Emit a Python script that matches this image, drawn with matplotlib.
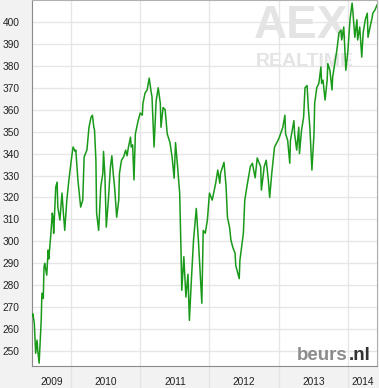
import matplotlib.pyplot as plt

plt.rcParams["font.family"] = ["Liberation Sans", "DejaVu Sans"]

# AEX index (decimal year, index level)
t = [2009.44, 2009.45, 2009.47, 2009.49, 2009.51, 2009.52, 2009.54, 2009.57, 2009.58, 2009.60,
     2009.61, 2009.62, 2009.65, 2009.67, 2009.68, 2009.71, 2009.73, 2009.74, 2009.75, 2009.78,
     2009.80, 2009.81, 2009.84, 2009.87, 2009.89, 2009.91, 2009.94, 2009.97,
     2010.01, 2010.03, 2010.06, 2010.07, 2010.10, 2010.13, 2010.14, 2010.17, 2010.19, 2010.23,
     2010.24, 2010.26, 2010.29, 2010.31, 2010.33, 2010.34, 2010.36, 2010.37, 2010.40, 2010.43,
     2010.46, 2010.47, 2010.49, 2010.51, 2010.54, 2010.57, 2010.59, 2010.61, 2010.63, 2010.66,
     2010.69, 2010.70, 2010.73, 2010.76, 2010.79, 2010.81, 2010.83, 2010.86, 2010.87, 2010.89,
     2010.91, 2010.93, 2010.97,
     2011.00, 2011.03, 2011.04, 2011.07, 2011.10, 2011.13, 2011.16, 2011.17, 2011.20, 2011.23,
     2011.26, 2011.29, 2011.30, 2011.33, 2011.36, 2011.39, 2011.43, 2011.46, 2011.49, 2011.51,
     2011.54, 2011.57, 2011.59, 2011.60, 2011.63, 2011.66, 2011.69, 2011.71, 2011.74, 2011.77,
     2011.81, 2011.84, 2011.89, 2011.91, 2011.94, 2011.97,
     2012.00, 2012.04, 2012.09, 2012.12, 2012.15, 2012.16, 2012.21, 2012.24, 2012.26, 2012.29,
     2012.31, 2012.34, 2012.37, 2012.38, 2012.43, 2012.44, 2012.49, 2012.51, 2012.54, 2012.59,
     2012.62, 2012.66, 2012.69, 2012.74, 2012.75, 2012.78, 2012.79, 2012.82, 2012.85, 2012.87,
     2012.90, 2012.94, 2012.99,
     2013.01, 2013.06, 2013.09, 2013.10, 2013.13, 2013.16, 2013.17, 2013.22, 2013.23, 2013.26,
     2013.29, 2013.30, 2013.33, 2013.36, 2013.38, 2013.41, 2013.43, 2013.45, 2013.48, 2013.51,
     2013.52, 2013.55, 2013.58, 2013.61, 2013.62, 2013.64, 2013.67, 2013.70, 2013.71, 2013.74,
     2013.77, 2013.78, 2013.81, 2013.84, 2013.87, 2013.90, 2013.91, 2013.94, 2013.97,
     2014.00, 2014.03, 2014.06, 2014.07, 2014.10, 2014.13, 2014.14, 2014.17, 2014.20, 2014.22,
     2014.25, 2014.28, 2014.29, 2014.32, 2014.35, 2014.36, 2014.39, 2014.42]

aex = [266, 267, 262.7, 249, 255, 250.4, 244.5, 264, 276.4, 274,
       288, 290, 284.6, 296, 292, 303.7, 312.9, 311, 303.7, 324.7,
       327, 315.6, 309.7, 322, 313, 305, 318.8, 328,
       338.5, 343, 341, 341.6, 328, 319, 315.6, 318.8, 338.5, 341.6,
       345, 352, 356.6, 357.5, 352, 350.7, 337, 312.9, 305, 324.7,
       331, 341, 330, 306.5, 318.8, 334, 339, 331, 324.7, 311,
       318.8, 331, 337, 338.5, 341.6, 339, 343, 347.5, 343, 344,
       328, 349, 355,
       358.5, 357.5, 363, 367.6, 369, 374.4, 367.6, 366, 343, 364,
       370, 363, 352, 361, 360, 349, 345, 338.5, 328.8, 345,
       334, 322, 294.6, 277.7, 293, 274.6, 285, 264, 283, 300.6,
       315, 300.6, 271.8, 305, 303.7, 309.7,
       322, 318.8, 326.5, 332.5, 326.5, 331, 336, 325, 311, 306.5,
       300.6, 297, 294.6, 289, 283, 291.4, 303.7, 318.8, 324.7, 334,
       335.6, 329, 338, 334, 323.4, 331, 334, 337, 328, 320,
       331, 343, 346,
       347.5, 352, 357.5, 349, 346, 335.6, 346, 355, 349, 341.6,
       352, 340, 350.7, 356.6, 370, 371, 360, 352, 332.5, 349,
       363, 370, 372, 379.5, 372, 373.5, 364.4, 373.5, 381, 378,
       369, 375, 381, 387, 395, 396.3, 391.8, 397.7, 378,
       387, 401, 408.6, 405.4, 393, 401, 391.8, 397.7, 384, 395,
       401, 404, 393, 397.7, 402, 404, 405.4, 407.7]

years = [2010, 2011, 2012, 2013, 2014]
year_labels = ["2009", "2010", "2011", "2012", "2013", "2014"]
yticks = list(range(250, 401, 10))
x_start, x_end = 2009.437, 2014.42

fig = plt.figure(figsize=(3.79, 3.88), dpi=100, facecolor="#f2f2f2")
ax = fig.add_axes([32 / 379, 22 / 388, 345 / 379, 366 / 388])
ax.set_facecolor("white")

ax.plot(t, aex, color="#1a9a1a", linewidth=1.1, zorder=3)

ax.set_xlim(x_start, x_end)
ax.set_ylim(243.2, 410)

# year boundaries as long grey ticks, labels in the middle of each year
ax.set_xticks(years)
ax.set_xticklabels([])
bounds = [x_start] + years + [x_end]
mids = [(bounds[i] + bounds[i + 1]) / 2 for i in range(len(bounds) - 1)]
ax.set_xticks(mids, minor=True)
ax.set_xticklabels(year_labels, minor=True, fontsize=7.3, color="#222222")
ax.tick_params(axis="x", which="major", length=18, width=1, color="#e4e4e4")
ax.tick_params(axis="x", which="minor", length=0, pad=8)

ax.set_yticks(yticks)
ax.set_yticklabels([str(v) for v in yticks], fontsize=7.3, color="#222222")
ax.tick_params(axis="y", length=0, pad=9)

ax.grid(True, which="major", color="#e6e6e6", linewidth=1, zorder=0)

for side in ["left", "bottom"]:
    ax.spines[side].set_color("#8a8a8a")
for side in ["top", "right"]:
    ax.spines[side].set_color("#b0b0b0")

# watermarks
ax.text(0.78, 0.99, "AEX", transform=ax.transAxes, ha="center", va="top",
        fontsize=33, fontweight="bold", color="#e4e4e4", zorder=1)
ax.text(0.79, 0.855, "REALTIME", transform=ax.transAxes, ha="center", va="top",
        fontsize=14, fontweight="bold", color="#e4e4e4", zorder=1)

# beurs.nl logo, two colours
nl = fig.text(0.977, 0.062, ".nl", ha="right", va="bottom",
              fontsize=13.5, fontweight="bold", color="#333333")
ax.annotate("beurs", xy=(0, 0), xycoords=nl, xytext=(-0.5, 0), textcoords="offset points",
            ha="right", va="bottom", fontsize=13.5, fontweight="bold", color="#8c8c8c",
            annotation_clip=False)

plt.savefig("out.png", dpi=100, facecolor=fig.get_facecolor())
